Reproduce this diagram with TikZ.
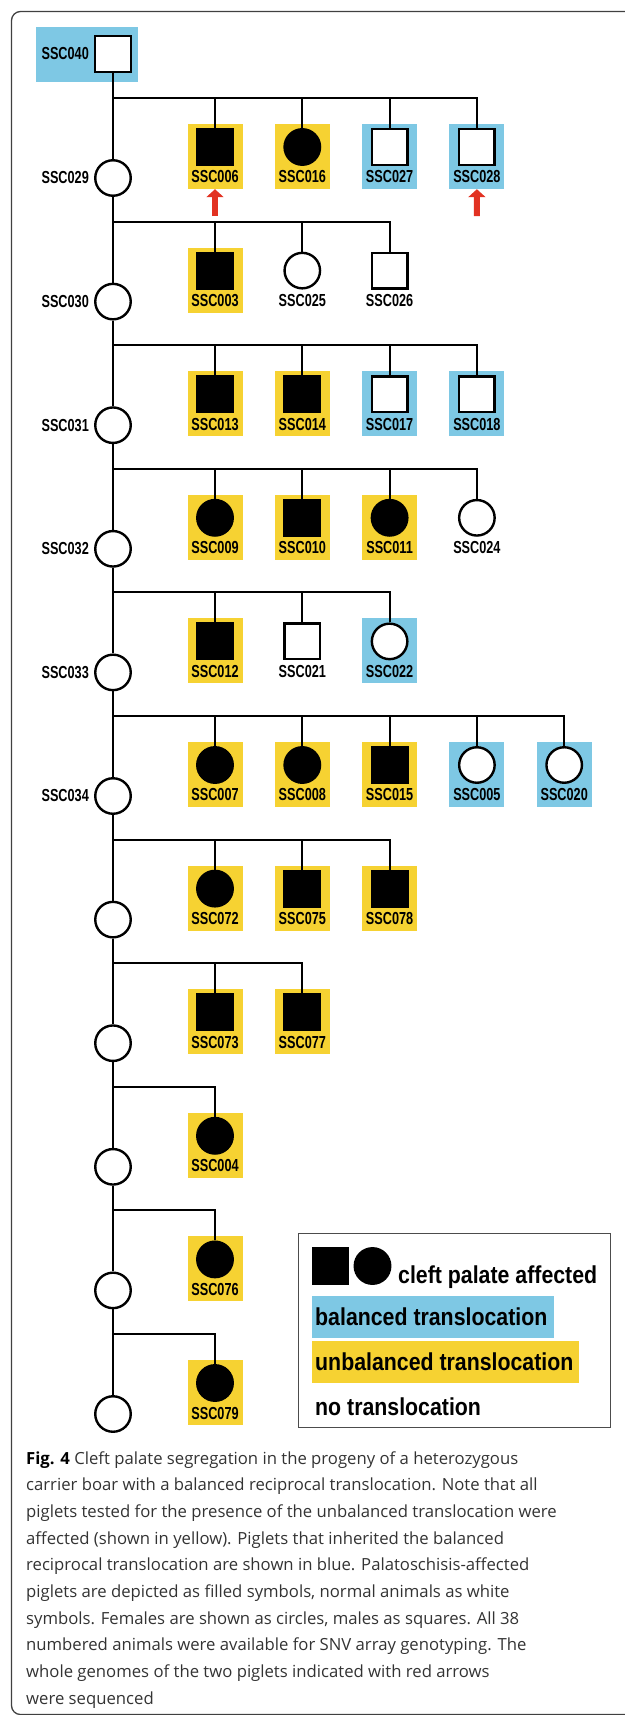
\documentclass[tikz,border=0pt]{standalone}
\usepackage{fontspec}
\setmainfont{Open Sans}
\newfontfamily\lblfont[FakeStretch=0.73]{Liberation Sans}
\newfontfamily\keyfont[FakeStretch=0.87]{Liberation Sans}
\usepackage{tikz}
\usetikzlibrary{arrows.meta,positioning}
\definecolor{balblue}{RGB}{126,200,228}
\definecolor{unbyellow}{RGB}{246,210,50}
\definecolor{arrowred}{RGB}{226,50,34}

\begin{document}
\begin{tikzpicture}[x=1pt,y=-1pt,
		  line/.style={line width=2.2pt},
		  sym/.style={draw, line width=2.4pt, minimum size=35.5pt, inner sep=0pt, fill=white},
		  malea/.style={sym, rectangle, fill=black},
		  maleu/.style={sym, rectangle},
		  femalea/.style={sym, circle, fill=black},
		  femaleu/.style={sym, circle},
		  yelbg/.style={fill=unbyellow},
		  blubg/.style={fill=balblue},
		  nobg/.style={},
		  bgbox/.style={rectangle, minimum width=55pt, minimum height=65pt, inner sep=0pt},
		  idlabel/.style={font=\lblfont\bfseries\fontsize{17.4}{18}\selectfont, inner sep=0pt},
		  keytext/.style={font=\keyfont\bfseries\fontsize{24.5}{26}\selectfont, inner sep=0pt, anchor=base west},
		  captext/.style={font=\fontsize{16.7}{20}\selectfont, text=black!80, inner sep=0pt, anchor=base west},
		  seqarrow/.style={-{Triangle[width=17pt,length=8pt]}, line width=6pt, arrowred}]
		\useasboundingbox (0,0) rectangle (624,1715);
		\draw[black!75, line width=1.3pt, rounded corners=9pt] (625,11.5) -- (11.5,11.5) -- (11.5,1714.5) -- (625,1714.5);

		\node[bgbox, blubg, minimum width=102pt, minimum height=55pt] (b040) at (87,54.5) {};
		\node[maleu] (m0) at (113,54) {};
		\node[idlabel, left=5pt of m0] (l040) {SSC040};
		\foreach \k in {1,...,11} {
		  \node[femaleu] (m\k) at (113, {178+123.6*(\k-1)}) {};
		  \coordinate (s\k) at (113, {round(178+123.6*(\k-1)-80)});
		}
		\foreach \k/\id in {1/029,2/030,3/031,4/032,5/033,6/034}
		  \node[idlabel, left=5pt of m\k] (ml\k) {SSC\id};
		\foreach \j [count=\k] in {0,...,10}
		  \draw[line] (m\j.south) -- (m\k.north);

		\foreach \r/\c/\id/\sx/\bg in {1/1/006/malea/yelbg, 1/2/016/femalea/yelbg, 1/3/027/maleu/blubg, 1/4/028/maleu/blubg,
		    2/1/003/malea/yelbg, 2/2/025/femaleu/nobg, 2/3/026/maleu/nobg,
		    3/1/013/malea/yelbg, 3/2/014/malea/yelbg, 3/3/017/maleu/blubg, 3/4/018/maleu/blubg,
		    4/1/009/femalea/yelbg, 4/2/010/malea/yelbg, 4/3/011/femalea/yelbg, 4/4/024/femaleu/nobg,
		    5/1/012/malea/yelbg, 5/2/021/maleu/nobg, 5/3/022/femaleu/blubg,
		    6/1/007/femalea/yelbg, 6/2/008/femalea/yelbg, 6/3/015/malea/yelbg, 6/4/005/femaleu/blubg, 6/5/020/femaleu/blubg,
		    7/1/072/femalea/yelbg, 7/2/075/malea/yelbg, 7/3/078/malea/yelbg,
		    8/1/073/malea/yelbg, 8/2/077/malea/yelbg,
		    9/1/004/femalea/yelbg,
		    10/1/076/femalea/yelbg,
		    11/1/079/femalea/yelbg} {
		  \pgfmathsetmacro\xx{215+87.3*(\c-1)}
		  \pgfmathsetmacro\yy{178+123.6*(\r-1)}
		  \node[bgbox, \bg] (b\id) at (\xx, \yy-21.5) {};
		  \node[\sx] (c\id) at (\xx, \yy-31) {};
		  \node[idlabel] (l\id) at (\xx, \yy-1) {SSC\id};
		  \draw[line] (s\r) -| (c\id.north);
		}

		\coordinate (a006) at (215,216);
		\coordinate (a028) at (476.9,216);
		\draw[seqarrow] (a006) -- (b006.south);
		\draw[seqarrow] (a028) -- (b028.south);

		\node[draw=black!70, line width=1.3pt, minimum width=312pt, minimum height=194pt, inner sep=0pt, anchor=north west] (key) at (297.5,1232.5) {};
		\node[malea] (ksq) at (330.5,1266) {};
		\node[femalea] (kci) at (372.5,1266) {};
		\node[keytext] (kaff) at (398,1283.3) {cleft palate affected};
		\node[blubg, minimum width=242.3pt, minimum height=41.7pt, inner sep=0pt, anchor=north west] (kbal) at (311.7,1296) {};
		\node[keytext] (kbalt) at (315,1325) {balanced translocation};
		\node[yelbg, minimum width=267pt, minimum height=41.7pt, inner sep=0pt, anchor=north west] (kunb) at (311.7,1341) {};
		\node[keytext] (kunbt) at (315,1370.7) {unbalanced translocation};
		\node[keytext] (knone) at (315,1415) {no translocation};

		\foreach \i/\t in {1/{\textcolor{black}{\bfseries Fig. 4} Cleft palate segregation in the progeny of a heterozygous},
		    2/{carrier boar with a balanced reciprocal translocation. Note that all},
		    3/{piglets tested for the presence of the unbalanced translocation were},
		    4/{affected (shown in yellow). Piglets that inherited the balanced},
		    5/{reciprocal translocation are shown in blue. Palatoschisis-affected},
		    6/{piglets are depicted as filled symbols, normal animals as white},
		    7/{symbols. Females are shown as circles, males as squares. All 38},
		    8/{numbered animals were available for SNV array genotyping. The},
		    9/{whole genomes of the two piglets indicated with red arrows},
		    10/{were sequenced}}
		  \node[captext] (cap\i) at (26, {1464+26.7*(\i-1)}) {\t};
\end{tikzpicture}
\end{document}
